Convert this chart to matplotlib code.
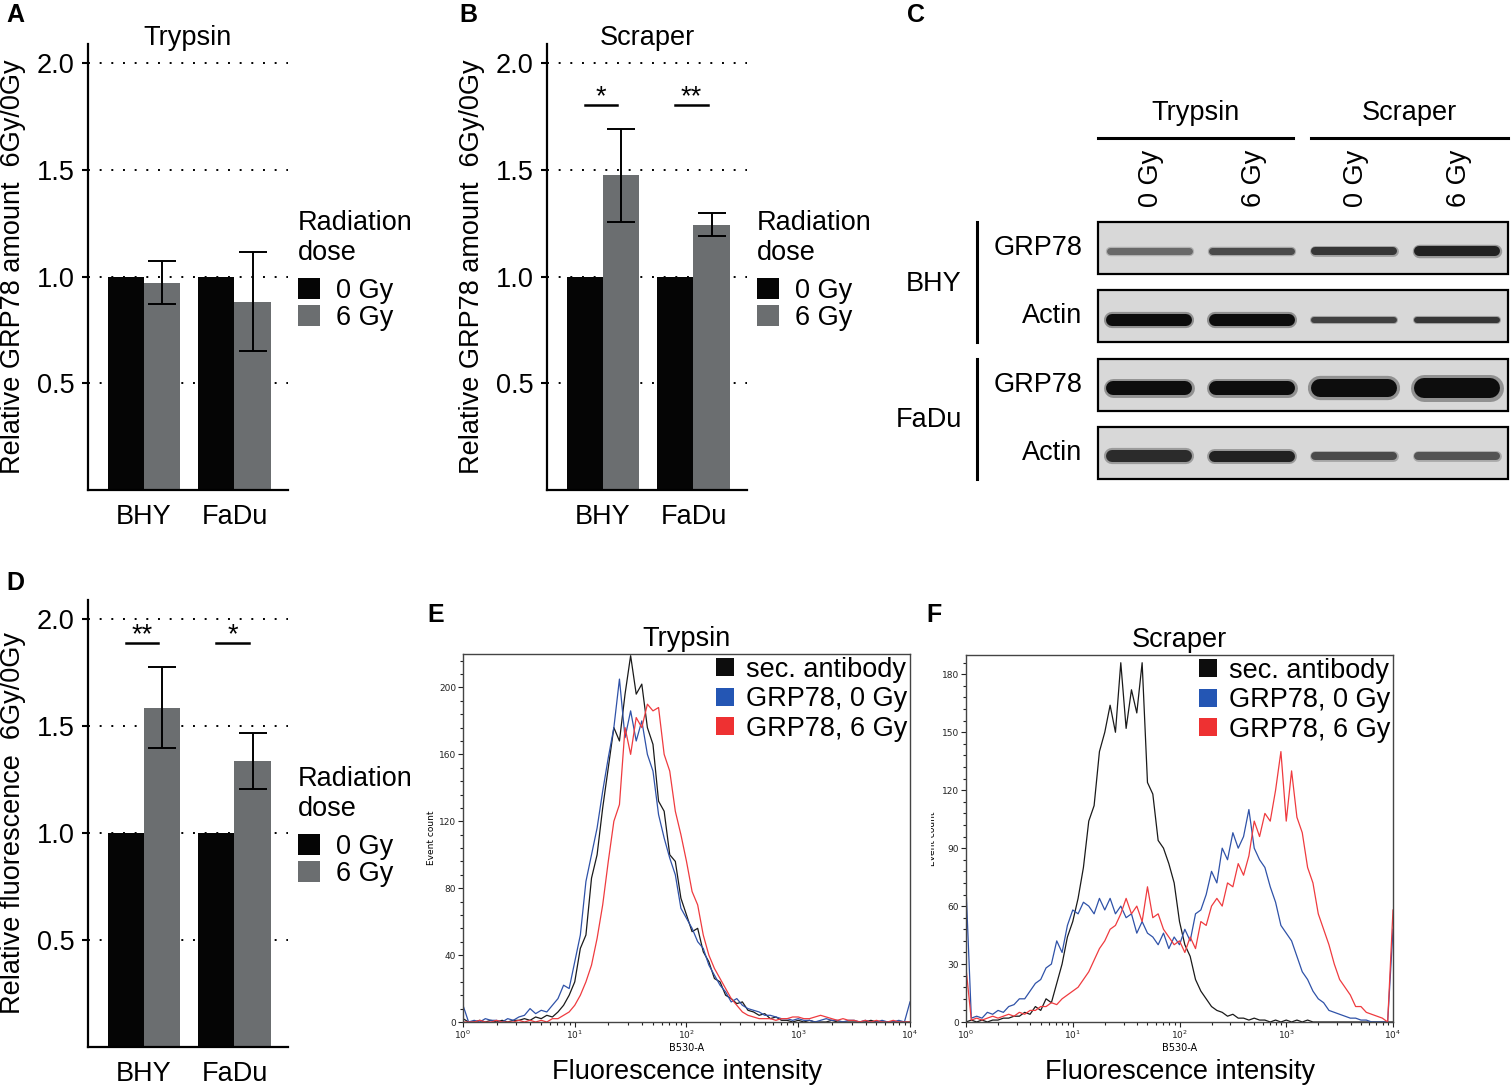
import numpy as np
import matplotlib
matplotlib.use("Agg")
import matplotlib.pyplot as plt
from matplotlib.patches import Patch, Rectangle
from matplotlib.ticker import MultipleLocator, LogLocator, NullFormatter
from matplotlib.transforms import Bbox, TransformedBbox

plt.rcParams['font.family'] = ['Liberation Sans', 'DejaVu Sans']

W, H = 1511, 1087
FS = 19.5
BLACK = "#050505"
GRAY = "#6b6e70"

# ---- bar charts (A, B, D) ----
CELL_LINES = ["BHY", "FaDu"]
DOSES = ["0 Gy", "6 Gy"]
TRYPSIN_0GY = [1.0, 1.0]
TRYPSIN_6GY = [0.972, 0.883]
TRYPSIN_6GY_ERR = [0.10, 0.233]
SCRAPER_0GY = [1.0, 1.0]
SCRAPER_6GY = [1.474, 1.244]
SCRAPER_6GY_ERR = [0.22, 0.052]
SCRAPER_STARS = ["*", "**"]
FACS_0GY = [1.0, 1.0]
FACS_6GY = [1.587, 1.338]
FACS_6GY_ERR = [0.19, 0.13]
FACS_STARS = ["**", "*"]

# ---- western blot (C) ----
BLOT_METHODS = ["Trypsin", "Scraper"]
BLOT_LANES = ["0 Gy", "6 Gy", "0 Gy", "6 Gy"]
BLOT_ROWS = ["GRP78", "Actin", "GRP78", "Actin"]
BLOT_CELLS = ["BHY", "FaDu"]
BAND_THICKNESS = [[7, 7, 8, 10],
                  [12, 12, 6, 6],
                  [14, 14, 18, 20],
                  [12, 11, 8, 8]]
BAND_DARKNESS = [[0.55, 0.7, 0.8, 0.9],
                 [1.0, 1.0, 0.75, 0.8],
                 [1.0, 1.0, 1.0, 1.0],
                 [0.85, 0.9, 0.7, 0.65]]

# ---- flow cytometry histograms (E, F), log10 of B530-A, 0.05 steps ----
EXPONENTS = np.linspace(0, 4, 81)
FACS_LABELS = ["sec. antibody", "GRP78, 0 Gy", "GRP78, 6 Gy"]
E_SEC = [2, 0, 0, 1, 0, 1, 0, 1, 0, 1,
         1, 2, 1, 3, 2, 4, 3, 6, 10, 16,
         24, 44, 52, 86, 100, 128, 152, 176, 168, 196,
         219, 196, 202, 176, 166, 132, 126, 100, 96, 74,
         64, 54, 56, 42, 36, 26, 24, 16, 14, 11,
         12, 7, 6, 4, 5, 2, 3, 1, 1, 0,
         1, 0, 1, 0, 0, 0, 1, 0, 0, 0,
         0, 0, 0, 1, 0, 0, 0, 0, 0, 0,
         0]
E_0GY = [10, 0, 1, 0, 2, 1, 1, 0, 2, 1,
         3, 4, 8, 5, 7, 6, 10, 14, 22, 20,
         36, 52, 84, 100, 116, 138, 158, 176, 205, 170,
         186, 168, 180, 160, 150, 124, 110, 98, 88, 68,
         62, 56, 48, 44, 34, 28, 22, 18, 12, 14,
         10, 8, 7, 6, 4, 4, 3, 2, 2, 1,
         2, 1, 1, 0, 1, 2, 1, 1, 0, 1,
         1, 0, 1, 0, 0, 1, 0, 0, 1, 0,
         12]
E_6GY = [0, 0, 0, 1, 0, 0, 1, 0, 0, 0,
         1, 0, 1, 0, 1, 0, 2, 2, 4, 6,
         10, 16, 24, 34, 50, 70, 96, 120, 130, 176,
         160, 182, 176, 190, 186, 188, 160, 150, 126, 112,
         96, 78, 70, 52, 40, 32, 26, 20, 14, 10,
         6, 4, 3, 2, 2, 2, 1, 2, 2, 3,
         3, 2, 2, 3, 4, 3, 2, 1, 2, 1,
         1, 0, 1, 0, 1, 0, 0, 1, 0, 0,
         0]
F_SEC = [0, 1, 0, 1, 0, 1, 1, 2, 2, 3,
         3, 5, 4, 8, 6, 12, 10, 20, 30, 44,
         52, 64, 80, 104, 112, 140, 150, 164, 150, 186,
         152, 172, 160, 186, 124, 118, 94, 90, 82, 72,
         52, 40, 34, 22, 16, 12, 8, 6, 5, 3,
         4, 2, 2, 1, 2, 1, 1, 0, 1, 0,
         1, 0, 1, 0, 1, 0, 0, 0, 0, 0,
         0, 0, 0, 0, 0, 0, 0, 0, 0, 0,
         0]
F_0GY = [70, 2, 3, 2, 5, 4, 6, 5, 8, 9,
         12, 12, 16, 20, 22, 28, 30, 42, 36, 50,
         58, 56, 62, 60, 56, 64, 58, 64, 56, 60,
         54, 56, 46, 52, 46, 44, 40, 46, 38, 44,
         40, 48, 42, 56, 58, 66, 78, 72, 90, 84,
         98, 90, 96, 110, 90, 84, 80, 70, 62, 50,
         46, 42, 34, 26, 22, 16, 12, 10, 6, 5,
         4, 3, 2, 2, 1, 1, 0, 0, 0, 0,
         48]
F_6GY = [28, 1, 2, 1, 2, 3, 2, 3, 4, 3,
         5, 4, 6, 6, 8, 8, 10, 9, 12, 14,
         16, 18, 22, 26, 32, 38, 42, 48, 50, 56,
         64, 56, 60, 52, 70, 54, 56, 48, 44, 40,
         42, 36, 44, 38, 52, 50, 60, 64, 60, 72,
         70, 82, 76, 86, 104, 96, 108, 104, 120, 140,
         104, 130, 106, 98, 80, 72, 56, 48, 40, 30,
         22, 18, 14, 8, 8, 5, 4, 3, 2, 0,
         58]
LINE_COLORS = ["#1a1a1a", "#2f52a8", "#ef3b3f"]
SWATCH_COLORS = ["#0d0d0d", "#2456b4", "#ee3132"]

BAR_W = 0.4


def frac(left, top, right, bottom):
    return [left / W, 1 - bottom / H, (right - left) / W, (bottom - top) / H]


def fig_text(fig, x, y, s, **kw):
    return fig.text(x / W, 1 - y / H, s, **kw)


def bar_panel(fig, rect, dose0, dose6, err6, title, ylabel, stars=None):
    ax = fig.add_axes(frac(*rect))
    pos = np.arange(len(CELL_LINES))
    ax.bar(pos - BAR_W / 2, dose0, BAR_W, color=BLACK, zorder=2)
    ax.bar(pos + BAR_W / 2, dose6, BAR_W, color=GRAY, zorder=2)
    ax.errorbar(pos + BAR_W / 2, dose6, yerr=err6, fmt='none', ecolor='black',
                elinewidth=1.4, capsize=10, capthick=1.4, zorder=3)
    ax.set_axisbelow(True)
    ax.set_xlim(-0.615, 1.59)
    ax.set_ylim(0, 2.09)
    ax.set_yticks([0.5, 1.0, 1.5, 2.0])
    ax.set_yticklabels(["0.5", "1.0", "1.5", "2.0"])
    ax.yaxis.grid(True, linestyle=(0, (1, 5)), color='black', linewidth=1.4)
    ax.set_xticks(pos)
    ax.set_xticklabels(CELL_LINES)
    ax.tick_params(axis='x', length=0, pad=10, labelsize=FS)
    ax.tick_params(axis='y', length=4.5, width=1.5, pad=5, labelsize=FS)
    for side in ["top", "right"]:
        ax.spines[side].set_visible(False)
    for side in ["left", "bottom"]:
        ax.spines[side].set_linewidth(1.6)
    ax.set_title(title, fontsize=FS, y=0.995, pad=1)
    ax.set_ylabel(ylabel, fontsize=FS)
    ax.yaxis.set_label_coords(-0.31, 0.5)

    if stars is not None:
        tops = np.array(dose6) + np.array(err6)
        level = tops.max() + 0.11
        for p, s in zip(pos, stars):
            ax.plot([p - 0.2, p + 0.16], [level, level], color='black', lw=1.8)
            ax.text(p - 0.02, level + 0.005, s, ha='center', va='baseline',
                    fontsize=FS)

    handles = [Patch(facecolor=BLACK), Patch(facecolor=GRAY)]
    leg = ax.legend(handles, DOSES, title="Radiation\ndose", loc='upper left',
                    bbox_to_anchor=(1.05, 0.628), frameon=False,
                    alignment='left', fontsize=FS, title_fontsize=FS,
                    handlelength=0.82, handleheight=0.82, handletextpad=0.6,
                    labelspacing=0.04, borderpad=0, borderaxespad=0)
    leg._legend_box.sep = 8.5
    return ax


def blot_panel(fig):
    ax = fig.add_axes(frac(1098, 222, 1508, 479))
    ax.set_xlim(0, 4)
    ax.set_ylim(3.38, -0.38)
    ax.axis('off')
    lane_px = 410 / 4
    for r, row in enumerate(BLOT_ROWS):
        ax.add_patch(Rectangle((0, r - 0.38), 4, 0.76, facecolor='#d8d8d8',
                               edgecolor='black', lw=1.6, clip_on=False))
        for lane in range(len(BLOT_LANES)):
            thick = BAND_THICKNESS[r][lane]
            dark = BAND_DARKNESS[r][lane]
            g = 0.85 - 0.8 * dark
            half = 0.42 - (thick / 2) / lane_px
            xs = [lane + 0.5 - half, lane + 0.5 + half]
            ys = [r + 0.05, r + 0.05]
            ax.plot(xs, ys, color=(g, g, g), lw=thick * 0.72 * 1.35, alpha=0.35,
                    solid_capstyle='round')
            ax.plot(xs, ys, color=(g, g, g), lw=thick * 0.72,
                    solid_capstyle='round')
        ax.text(-0.155, r, row, ha='right', va='center', fontsize=FS,
                clip_on=False)

    for i, cell in enumerate(BLOT_CELLS):
        r0 = 2 * i
        ax.plot([-1.18, -1.18], [r0 - 0.38, r0 + 1.38], color='black', lw=2.2,
                clip_on=False)
        ax.text(-1.33, r0 + 0.52, cell, ha='right', va='center', fontsize=FS,
                clip_on=False)

    spans = [(0.0, 1.90), (2.08, 4.0)]
    for (a, b), method in zip(spans, BLOT_METHODS):
        ax.plot([a, b], [-1.61, -1.61], color='black', lw=2.2, clip_on=False)
        ax.text((a + b) / 2, -1.97, method, ha='center', va='center',
                fontsize=FS, clip_on=False)
    for lane, lab in enumerate(BLOT_LANES):
        ax.text(lane + 0.52, -1.02, lab, ha='center', va='center', rotation=90,
                fontsize=FS, clip_on=False)
    return ax


def facs_panel(fig, rect, curves, ymax, ystep, yminor, title, label_x,
               clip_left=None):
    ax = fig.add_axes(frac(*rect))
    x = 10 ** EXPONENTS
    for counts, color in zip(curves, LINE_COLORS):
        ax.plot(x, counts, color=color, lw=0.9)
    ax.set_xscale('log')
    ax.set_xlim(1, 1e4)
    ax.set_ylim(0, ymax)
    ax.set_yticks(np.arange(0, ymax, ystep))
    ax.yaxis.set_minor_locator(MultipleLocator(yminor))
    ax.xaxis.set_minor_locator(LogLocator(base=10, subs=np.arange(2, 10)))
    ax.xaxis.set_minor_formatter(NullFormatter())
    ax.tick_params(which='both', direction='out', width=0.8, labelsize=6.5,
                   pad=1.5, labelfontfamily='DejaVu Sans', colors='#222222')
    ax.tick_params(which='major', length=3.5)
    ax.tick_params(which='minor', length=2.2)
    for sp in ax.spines.values():
        sp.set_linewidth(1.0)
        sp.set_color('#444444')
    ax.set_xlabel("B530-A", fontsize=7, family='DejaVu Sans', labelpad=1)
    ax.set_ylabel("Event count", fontsize=6.5, family='DejaVu Sans')
    ax.yaxis.set_label_coords(label_x, 0.5)
    if clip_left is not None:
        lab = ax.yaxis.label
        lab.set_clip_box(TransformedBbox(Bbox([[clip_left / W, 0], [1, 1]]),
                                         fig.transFigure))
        lab.set_clip_on(True)
    ax.set_title(title, fontsize=FS, pad=5.5)
    handles = [Patch(facecolor=c) for c in SWATCH_COLORS]
    ax.legend(handles, FACS_LABELS, loc='upper right', bbox_to_anchor=(1.0, 1.0),
              frameon=False, fontsize=FS, handlelength=0.67, handleheight=0.67,
              handletextpad=0.45, labelspacing=0.13, borderpad=0,
              borderaxespad=0.1)
    return ax


def run():
    fig = plt.figure(figsize=(W / 100, H / 100), dpi=100)

    bar_panel(fig, (88, 44, 288, 490), TRYPSIN_0GY, TRYPSIN_6GY, TRYPSIN_6GY_ERR,
              "Trypsin", "Relative GRP78 amount  6Gy/0Gy")
    bar_panel(fig, (547, 44, 747, 490), SCRAPER_0GY, SCRAPER_6GY, SCRAPER_6GY_ERR,
              "Scraper", "Relative GRP78 amount  6Gy/0Gy", SCRAPER_STARS)
    bar_panel(fig, (88, 600, 288, 1047), FACS_0GY, FACS_6GY, FACS_6GY_ERR,
              "", "Relative fluorescence  6Gy/0Gy", FACS_STARS)
    blot_panel(fig)
    facs_panel(fig, (463, 654, 910, 1022), [E_SEC, E_0GY, E_6GY], 220, 40, 8,
               "Trypsin", -0.06)
    facs_panel(fig, (966, 655, 1393, 1022), [F_SEC, F_0GY, F_6GY], 190, 30, 6,
               "Scraper", -0.068, clip_left=931)

    fig_text(fig, 687, 1072, "Fluorescence intensity", ha='center', va='center',
             fontsize=FS)
    fig_text(fig, 1180, 1072, "Fluorescence intensity", ha='center', va='center',
             fontsize=FS)

    for letter, x, y in [("A", 6, 3), ("B", 459, 3), ("C", 907, 3),
                         ("D", 6, 571), ("E", 427, 603), ("F", 926, 603)]:
        fig_text(fig, x, y, letter, ha='left', va='top', fontsize=18,
                 fontweight='bold')

    fig.savefig("out.png", dpi=100)


if __name__ == '__main__':
    run()
